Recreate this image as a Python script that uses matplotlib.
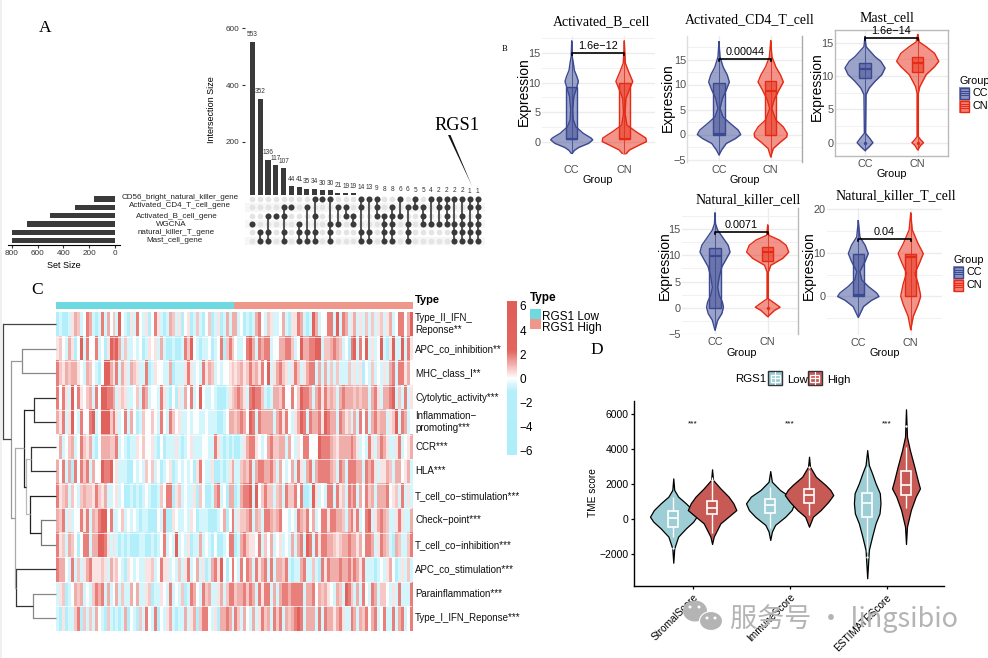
#!/usr/bin/python3
"""
Composite figure: upset plot (A), group violins (B), heatmap (C), TME violins (D).
"""
import numpy as np
import matplotlib
matplotlib.use("Agg")
import matplotlib.pyplot as plt
from matplotlib.colors import LinearSegmentedColormap, ListedColormap
from matplotlib.patches import Rectangle, Ellipse

W, H = 988, 658
SANS = "Liberation Sans"
SERIF = "Liberation Serif"
plt.rcParams["font.family"] = [SANS, "DejaVu Sans"]

# ---- panel A data
set_names = ["CD56_bright_natural_killer_gene", "Activated_CD4_T_cell_gene", "Activated_B_cell_gene",
             "WGCNA", "natural_killer_T_gene", "Mast_cell_gene"]
set_sizes = [160, 310, 505, 685, 800, 800]
inter_sizes = [553, 352, 136, 117, 107, 44, 41, 35, 34, 30, 30, 21, 19, 19, 14, 13, 9, 8, 8, 6, 6, 5, 5, 4, 2, 2, 2, 2, 1, 1]
# row indexes into set_names for each intersection column
inter_sets = [[3], [4, 5], [2, 4, 5], [2], [1, 2, 4, 5], [1], [3, 4, 5], [1, 4, 5], [0, 2, 4, 5], [0],
              [0, 3, 4, 5], [1, 3], [1, 2], [2, 3], [0, 1, 4, 5], [0, 4, 5], [0, 1, 2], [2, 3, 4, 5],
              [1, 2, 3, 4, 5], [0, 2], [1, 3, 4, 5], [0, 1], [1, 2, 3], [0, 3], [0, 1, 3], [0, 1, 2, 3],
              [0, 3, 4, 5], [0, 2, 3, 4, 5], [0, 1, 3, 4, 5], [0, 1, 2, 3, 4, 5]]

# ---- panel B data: y knots and half widths of each violin, box = q1, median, q3
b_cc_y = [17, 14.4, 13.4, 12.1, 11, 10.2, 9.2, 7.6, 5.4, 3.7, 2.5, 1.4, .6, .3, -.3, -1, -1.5, -2.1]
b_cc_w = [0, .01, .03, .05, .1, .127, .095, .04, .02, .03, .08, .22, .37, .40, .32, .13, .05, 0]
b_cn_y = [17, 13.3, 11.9, 10.2, 8.8, 7.3, 4.8, 2.8, 1.7, .6, 0, -.6, -1.4, -2.4]
b_cn_w = [0, .02, .08, .16, .095, .03, .015, .05, .22, .41, .42, .28, .1, 0]
b_cc_box = [.4, .4, 9.2]
b_cn_box = [.4, .4, 9.9]

cd4_cc_y = [18.5, 15.5, 13.5, 11.9, 10.5, 8.9, 7.2, 5.2, 3.5, 2.2, .9, 0, -.8, -1.8, -3.1, -4.1]
cd4_cc_w = [0, .02, .08, .16, .2, .14, .065, .02, .08, .22, .37, .42, .32, .14, .05, 0]
cd4_cn_y = [18.7, 15.5, 13.5, 11.9, 10.5, 8.9, 6.9, 5.2, 2.9, 1.5, .2, -.5, -1.5, -2.8, -4.5]
cd4_cn_w = [0, .025, .1, .19, .245, .16, .065, .02, .1, .245, .32, .31, .19, .05, 0]
cd4_cc_box = [0, .2, 10.3]
cd4_cn_box = [0, 8.7, 10.7]

mast_cc_y = [15.9, 14.4, 12.9, 12.2, 11.2, 10.2, 9.2, 8.2, 7.2, 1.4, .65, 0, -.6, -1.2]
mast_cc_w = [0, .02, .19, .3, .38, .32, .19, .08, .02, .012, .09, .15, .08, 0]
mast_cn_y = [16.2, 15.1, 14.4, 13.4, 12.2, 11.4, 10.2, 8.4, 7.4, .9, .4, 0, -.45, -1.1]
mast_cn_w = [0, .03, .16, .32, .4, .32, .16, .04, .012, .012, .06, .11, .05, 0]
mast_cc_box = [9.75, 11, 12]
mast_cn_box = [10.65, 12, 12.9]

nk_cc_y = [18, 16, 14.8, 13.2, 11.9, 10.6, 9.4, 7.8, 5.9, 3.9, 2.4, 1.1, .1, -1.1, -2.4, -4.3]
nk_cc_w = [0, .01, .05, .16, .25, .285, .22, .13, .08, .05, .08, .14, .16, .13, .05, 0]
nk_cn_y = [15.7, 13.8, 12.9, 11.9, 10.6, 9.4, 8.1, 6.8, 1.7, .8, .1, -.5, -1.7]
nk_cn_w = [0, .02, .22, .35, .4, .285, .06, .012, .012, .14, .235, .13, 0]
nk_cc_box = [0, 9.9, 11.3]
nk_cn_box = [8.9, 10.6, 11.6]

nkt_cc_y = [17.3, 13.6, 11.7, 9.8, 8, 5.7, 3.8, 2.3, .8, 0, -.9, -2.3, -4.8]
nkt_cc_w = [0, .03, .13, .19, .13, .03, .065, .19, .35, .395, .25, .1, 0]
nkt_cn_y = [19, 15.2, 12.1, 9.8, 8, 5.3, 3, .8, 0, -1.9, -4.5, -7.6]
nkt_cn_w = [0, .03, .14, .24, .18, .08, .14, .18, .19, .14, .05, 0]
nkt_cc_box = [0, .4, 9.6]
nkt_cn_box = [0, 8.9, 9.8]

# ---- panel C data: one digit per cell, see heat_levels
row_names = ["Type_II_IFN_\nReponse**", "APC_co_inhibition**", "MHC_class_I**", "Cytolytic_activity***",
             "Inflammation\u2212\npromoting***", "CCR***", "HLA***", "T_cell_co\u2212stimulation***", "Check\u2212point***",
             "T_cell_co\u2212inhibition***", "APC_co_stimulation***", "Parainflammation***", "Type_I_IFN_Reponse***"]
heat_levels = {"0": -3, "1": -.6, "2": 0, "3": .4, "4": .8, "5": 1.2, "6": 1.9, "7": 4}
heat_rows = [
    "0100135412 6510161524 1721031621 3026310154 1302301410 2401301515 5120101562 1431125103 3651017512 2661716513 5131414134 1351266257",
    "3421530271 6226120376 7514112120 1323151001 0016472101 1201260464 2112675165 6612255664 1275566771 4456541206 7162713127 1037117163",
    "6435455321 5421027753 6153154311 6013221150 1113631216 3541212234 3453464536 2713564313 6413566151 5141411141 3130214121 3156166352",
    "6263172632 4516277665 1343112416 5122163102 0315261272 1121000134 5653167664 1015546226 2476651563 6454156555 4545515631 5567141613",
    "5361372162 2671277746 3126152014 2242162164 2311212211 2111001255 4565276165 5551563621 3576165563 7655165341 5162615645 5134716512",
    "2512451264 3510255544 6121011324 2231020111 3101231112 2116310101 0013566321 2564455152 1326622276 6654355556 5312163146 5311361235",
    "5261506264 6152276672 3111002121 4241201230 1212120362 1130010135 1145461566 5564152125 1631561566 6654165166 6551656313 3541552351",
    "6345142145 4436435112 3120010101 2100142660 3412113042 0015612055 0156671724 6441451644 6260017312 1661634165 6152645155 5623416131",
    "5461312263 6154677261 1241212101 1000216003 2112132011 1000125026 1344561541 6654562212 1654625126 6366554156 3612671356 5411363115",
    "6341542026 6155776313 1010100011 0010126121 7121301151 2102001266 0156433261 4251231215 1561761636 6554345565 5352665136 5410541146",
    "6552161413 5633343153 4210321211 3341263312 1413612513 0156372026 2162651635 6161554610 1156114106 3655565564 6536111012 1352013141",
    "1340125451 2146561512 5141152511 3401132161 2140165216 4511351466 4556465163 6615156656 6661556254 5321541764 1516216514 4213161116",
    "1030114604 1415210410 1015021041 6216021351 0115135046 6213055651 6415215136 4516461545 6761555161 6553563116 5154625612 6116156126",
]
group_sizes = [60, 60]
group_labels = ["RGS1 Low", "RGS1 High"]
cbar_ticks = [6, 4, 2, 0, -2, -4, -6]
# merges: (x of the joint in pixels, child, child, colour); a child is a row or a "nN" earlier merge
dendro_merges = [
    (34.3, 3, 4, "#333333"),       # n0
    (31.3, 5, 6, "#333333"),       # n1
    (41.3, 8, 9, "#777777"),       # n2
    (30.3, 7, "n2", "#222222"),    # n3
    (26.0, "n1", "n3", "#bbbbbb"), # n4
    (24.3, "n0", "n4", "#222222"), # n5
    (33.3, 11, 12, "#888888"),     # n6
    (16.3, 10, "n6", "#333333"),   # n7
    (15.0, "n5", "n7", "#aaaaaa"), # n8
    (21.7, 1, 2, "#888888"),       # n9
    (10.7, "n9", "n8", "#999999"), # n10
    (2.7, 0, "n10", "#444444"),    # n11
]

# ---- panel D data
tme_names = ["StromalScore", "ImmuneScore", "ESTIMATEScore"]
stromal_low_y = [2340, 1680, 1300, 915, 530, 150, -130, -515, -990, -1660, -2480]
stromal_low_w = [0, .01, .05, .13, .2, .24, .206, .13, .05, .01, 0]
stromal_high_y = [2860, 2250, 1770, 1300, 915, 530, 250, -230, -990, -1410]
stromal_high_w = [0, .01, .086, .17, .22, .25, .19, .086, .017, 0]
immune_low_y = [2760, 2150, 1680, 1300, 915, 530, 150, -320, -700, -1180]
immune_low_w = [0, .017, .1, .2, .25, .22, .155, .05, .017, 0]
immune_high_y = [3580, 3010, 2440, 1960, 1680, 1390, 1010, 530, 150, -420]
immune_high_w = [0, .01, .07, .17, .22, .25, .2, .12, .04, 0]
estimate_low_y = [3960, 3100, 2630, 2060, 1490, 915, 340, -230, -990, -1750, -3370]
estimate_low_w = [0, .017, .05, .086, .13, .137, .127, .086, .05, .017, 0]
estimate_high_y = [6290, 4720, 3960, 3010, 2250, 1770, 1300, 530, -420, -1410]
estimate_high_w = [0, .01, .04, .086, .12, .144, .1, .05, .01, 0]
# whisker low, q1, median, q3, whisker high
low_boxes = [[-990, -420, 60, 495, 1300], [-515, 380, 820, 1160, 1870], [-1850, 115, 915, 1520, 3010]]
high_boxes = [[-800, 290, 630, 1070, 2440], [250, 915, 1390, 1730, 2820], [630, 1390, 1960, 2780, 4150]]
low_outliers = [[-1660], [], [-2130]]
high_outliers = [[2250], [3010], [5320]]


def px_axes(fig, left, top, right, bottom, **kw):
    """Axes placed by pixel box of the 988x658 picture"""
    return fig.add_axes([left / W, 1 - bottom / H, (right - left) / W, (bottom - top) / H], **kw)


def draw_upset(fig, ov):
    """Panel A"""
    xs = np.arange(len(inter_sizes))
    xlim = (-0.966, 29.96)
    ax = px_axes(fig, 245, 28, 485, 195)
    ax.bar(xs, inter_sizes, width=0.65, color="#3a3a3a")
    ax.set_xlim(*xlim)
    ax.set_ylim(12.3, 601)
    ax.set_xticks([])
    ax.set_yticks([200, 400, 600])
    ax.tick_params(axis="y", labelsize=5.9, length=2, pad=2, width=0.8, colors="#333333")
    for side in ax.spines.values():
        side.set_visible(False)
    for x, v in zip(xs, inter_sizes):
        ax.annotate(str(v), (x, v), xytext=(0, 2.5), textcoords="offset points",
                    ha="center", va="bottom", fontsize=4.7, color="#333333", annotation_clip=False)
    ov.text(211.5, 110, "Intersection Size", rotation=90, ha="center", va="center", fontsize=6.5)

    m = px_axes(fig, 245, 195, 485, 245)
    m.set_xlim(*xlim)
    m.set_ylim(5.5, -0.48)
    m.axis("off")
    for row in range(1, 6, 2):
        m.axhspan(row - 0.5, row + 0.5, color="#f6f6f6", lw=0, zorder=0)
    for x, rows in zip(xs, inter_sets):
        m.scatter([x] * 6, range(6), s=17, color="#e4e4e4", lw=0, zorder=1)
        m.plot([x, x], [min(rows), max(rows)], color="#3a3a3a", lw=1.2, zorder=2)
        m.scatter([x] * len(rows), rows, s=19, color="#3a3a3a", lw=0, zorder=3)

    s = px_axes(fig, 8, 195, 120, 244.5)
    s.barh(range(6), set_sizes, height=0.62, color="#3a3a3a")
    s.set_xlim(829, -38.7)
    s.set_ylim(5.45, -0.48)
    s.set_yticks([])
    s.set_xticks([800, 600, 400, 200, 0])
    s.tick_params(axis="x", labelsize=5.9, length=2, pad=2, width=0.8, colors="#333333")
    for side in ["top", "left", "right"]:
        s.spines[side].set_visible(False)
    ov.text(64, 265, "Set Size", ha="center", va="center", fontsize=6.5)

    name_x = [180, 180, 176.5, 171.5, 176, 174.5]
    name_y = [197.3, 205.7, 216, 224.3, 232.7, 240.7]
    for x, y, name in zip(name_x, name_y, set_names):
        ov.text(x, y, name, ha="center", va="center", fontsize=5.8, color="#222222")
    ov.text(456.5, 126, "RGS1", family=SERIF, ha="center", va="center", fontsize=13.2)
    ov.fill([448, 450.5, 472], [135, 135, 186], color="#111111", lw=0)


def draw_group_panel(fig, ov, box, ticks, ylim, cc_px, cn_px, violins, boxes, title, title_xy, ylabel_xy, group_xy,
                     bracket_y, ptext, frame=None, pad=2, dots=()):
    """One violin panel of B; box is left, top, right, bottom in pixels"""
    left, top, right, bottom = box
    step = cn_px - cc_px
    ax = px_axes(fig, left, top, right, bottom)
    ax.set_xlim(1 - (cc_px - left) / step, 1 + (right - cc_px) / step)
    ax.set_ylim(*ylim)
    ax.set_axisbelow(True)
    ax.set_xticks([1, 2])
    ax.set_xticklabels(["CC", "CN"])
    ax.set_yticks(ticks)
    minor = [t + (ticks[1] - ticks[0]) / 2 for t in ticks] + [ticks[0] - (ticks[1] - ticks[0]) / 2]
    ax.set_yticks([t for t in minor if ylim[0] <= t <= ylim[1]], minor=True)
    ax.grid(True, which="major", color="#ececec", lw=1.0)
    ax.grid(True, which="minor", axis="y", color="#f1f1f1", lw=0.7)
    ax.tick_params(axis="both", which="both", length=0, labelsize=7.8, colors="#4d4d4d")
    ax.tick_params(axis="x", pad=pad)
    ax.tick_params(axis="y", pad=1)
    for name, side in ax.spines.items():
        side.set_visible(False)
    for name, colour in (frame or {}).items():
        ax.spines[name].set_visible(True)
        ax.spines[name].set_color(colour)
        ax.spines[name].set_linewidth(1.0)

    for pos, (ys, ws), quart, colour in zip([1, 2], violins, boxes, [BLUE, RED]):
        ys = np.array(ys)
        ws = np.array(ws)
        ax.fill_betweenx(ys, pos - ws, pos + ws, color=colour, alpha=0.5, lw=0)
        ax.plot(np.r_[pos - ws, (pos + ws)[::-1]], np.r_[ys, ys[::-1]], color=colour, lw=1.0, solid_joinstyle="round")
        ax.vlines(pos, ys.min(), ys.max(), color=colour, lw=0.7, alpha=0.8)
        ax.bar(pos, quart[2] - quart[0], width=0.22, bottom=quart[0], facecolor=colour, edgecolor="none", alpha=0.5)
        ax.bar(pos, quart[2] - quart[0], width=0.22, bottom=quart[0], facecolor="none", edgecolor=colour, lw=1.0)
        ax.hlines(quart[1], pos - 0.11, pos + 0.11, color=colour, lw=1.6)
    for pos, val, colour in dots:
        ax.scatter([pos], [val], s=6, color=colour, zorder=5, lw=0)

    y_px = bracket_y
    ov.plot([cc_px, cc_px, cn_px, cn_px], [y_px + 2, y_px, y_px, y_px + 2], color="black", lw=1.2)
    ov.text((cc_px + cn_px) / 2, y_px - 7, ptext, ha="center", va="center", fontsize=7.8)
    ov.text(title_xy[0], title_xy[1], title, family=SERIF, ha="center", va="center", fontsize=10)
    ov.text(ylabel_xy[0], ylabel_xy[1], "Expression", rotation=90, ha="center", va="center", fontsize=10)
    ov.text(group_xy[0], group_xy[1], "Group", ha="center", va="center", fontsize=7.8)


def group_legend(ov, x, y_title, y_key, key_w=10.5, key_h=12.5):
    """Group key next to panels B"""
    ov.text(x, y_title, "Group", ha="left", va="center", fontsize=7.8)
    for i, (name, colour) in enumerate(zip(["CC", "CN"], [BLUE, RED])):
        y = y_key + i * (key_h + 0.5)
        ov.add_patch(Rectangle((x, y), key_w, key_h, facecolor=colour, alpha=0.6, lw=0))
        ov.add_patch(Rectangle((x + 0.5, y + 0.5), key_w - 1, key_h - 1, fill=False, edgecolor=colour, lw=1))
        for frac in (0.35, 0.5, 0.65):
            ov.plot([x + 1.5, x + key_w - 1.5], [y + key_h * frac] * 2, color=colour, lw=0.7)
        ov.text(x + key_w + 3, y + key_h / 2, name, ha="left", va="center", fontsize=7.8)


def draw_heatmap(fig, ov):
    """Panel C"""
    cells = [list(r.replace(" ", "")) for r in heat_rows]
    values = np.array([[float(heat_levels[c]) for c in row] for row in cells])
    cmap = LinearSegmentedColormap.from_list("heat", [(0, "#aeeefb"), (5 / 12, "#b5f0fc"), (.5, "#ffffff"),
                                                      (8.3 / 12, "#e4655f"), (1, "#df5f59")])
    ax = px_axes(fig, 56, 312, 412, 631)
    ax.imshow(values, aspect="auto", cmap=cmap, vmin=-6, vmax=6, interpolation="nearest")
    ax.hlines(np.arange(len(heat_rows) - 1) + .5, -.5, values.shape[1] - .5, color="white", lw=0.5)
    ax.axis("off")

    top = px_axes(fig, 56, 302, 412, 309)
    groups = np.repeat([0, 1], group_sizes)[None, :]
    top.imshow(groups, aspect="auto", cmap=ListedColormap([LOW_BAR, HIGH_BAR]), interpolation="nearest")
    top.axis("off")

    for i, name in enumerate(row_names):
        ov.text(415, 312 + 24.5 * (i + .5), name, ha="left", va="center", fontsize=7, linespacing=1.25, color="#111111")
    ov.text(415, 300, "Type", ha="left", va="center", fontsize=8, weight="bold")

    # dendrogram
    pos = {}
    for k, (x, a, b, colour) in enumerate(dendro_merges):
        ends = []
        for child in (a, b):
            if isinstance(child, str):
                ends.append(pos[child])
            else:
                ends.append((56, 312 + 24.5 * (child + .5)))
        for cx, cy in ends:
            ov.plot([x, cx], [cy, cy], color=colour, lw=0.9, solid_capstyle="butt")
        ov.plot([x, x], [ends[0][1], ends[1][1]], color=colour, lw=0.9)
        pos["n%d" % k] = (x, (ends[0][1] + ends[1][1]) / 2)

    # colour bar
    cb = px_axes(fig, 507, 301, 516.5, 455)
    grad = np.linspace(6.41, -6.36, 128)[:, None]
    cb.imshow(grad, aspect="auto", cmap=cmap, vmin=-6, vmax=6, extent=[0, 1, -6.36, 6.41])
    cb.set_xticks([])
    cb.yaxis.tick_right()
    cb.set_yticks(cbar_ticks)
    cb.tick_params(axis="y", length=0, labelsize=8.5, pad=2)
    for side in cb.spines.values():
        side.set_visible(False)

    ov.text(530, 298, "Type", ha="left", va="center", fontsize=8.5, weight="bold")
    for i, (name, colour) in enumerate(zip(group_labels, [LOW_BAR, HIGH_BAR])):
        ov.add_patch(Rectangle((530, 309 + i * 10), 10.5, 10, facecolor=colour, lw=0))
        ov.text(542, 316.5 + i * 11, name, ha="left", va="center", fontsize=8.5)


def draw_tme(fig, ov):
    """Panel D"""
    ax = px_axes(fig, 634.3, 401, 944.3, 586)
    low = [(stromal_low_y, stromal_low_w), (immune_low_y, immune_low_w), (estimate_low_y, estimate_low_w)]
    high = [(stromal_high_y, stromal_high_w), (immune_high_y, immune_high_w), (estimate_high_y, estimate_high_w)]
    sets = [(-0.2, low, low_boxes, low_outliers, TME_LOW), (0.2, high, high_boxes, high_outliers, TME_HIGH)]
    for shift, shapes, boxes, outliers, colour in sets:
        for i in range(len(tme_names)):
            x = i + shift
            ys = np.array(shapes[i][0])
            ws = np.array(shapes[i][1])
            ax.fill_betweenx(ys, x - ws, x + ws, facecolor=colour, edgecolor="black", lw=0.9, zorder=2 + shift)
            wlo, q1, med, q3, whi = boxes[i]
            ax.vlines(x, wlo, q1, color="white", lw=1.0, zorder=3)
            ax.vlines(x, q3, whi, color="white", lw=1.0, zorder=3)
            ax.bar(x, q3 - q1, width=0.1, bottom=q1, facecolor="none", edgecolor="white", lw=1.2, zorder=3)
            ax.hlines(med, x - 0.05, x + 0.05, color="white", lw=1.2, zorder=3)
            if outliers[i]:
                ax.scatter([x] * len(outliers[i]), outliers[i], s=3, color="white", lw=0, zorder=4)
    for i in range(len(tme_names)):
        ax.text(i, 5450, "***", ha="center", va="center", fontsize=6)
    ax.set_xlim(-0.602, 2.595)
    ax.set_ylim(-3811, 6766)
    ax.set_yticks([-2000, 0, 2000, 4000, 6000])
    ax.set_xticks(range(len(tme_names)))
    ax.set_xticklabels(tme_names, rotation=45, ha="right", rotation_mode="anchor", fontsize=7.3)
    ax.tick_params(axis="y", labelsize=7.5, length=2.5, pad=1.5, width=0.9)
    ax.tick_params(axis="x", length=2.5, pad=2, width=0.9)
    ax.spines["top"].set_visible(False)
    ax.spines["right"].set_visible(False)
    ax.spines["left"].set_linewidth(1.0)
    ax.spines["bottom"].set_linewidth(1.0)
    ov.text(593, 493, "TME score", rotation=90, ha="center", va="center", fontsize=7.3)

    ov.text(735.5, 379, "RGS1", ha="left", va="center", fontsize=8.2)
    for x, name, colour, tx in [(768, "Low", TME_LOW, 787.5), (807.5, "High", TME_HIGH, 827.5)]:
        ov.add_patch(Rectangle((x, 371), 14, 14, facecolor=colour, edgecolor="#333333", lw=1))
        ov.plot([x + 7, x + 7], [372, 384], color="white", lw=0.8)
        ov.add_patch(Rectangle((x + 2.5, 374.5), 9, 7, facecolor=colour, edgecolor="white", lw=0.9))
        ov.plot([x + 2.5, x + 11.5], [378, 378], color="white", lw=0.9)
        ov.text(tx, 380, name, ha="left", va="center", fontsize=8.2)


fig = plt.figure(figsize=(W / 100, H / 100), dpi=100)
BLUE = "#3B4992"
RED = "#E62A14"
LOW_BAR = "#6fd9e2"
HIGH_BAR = "#f0978b"
TME_LOW = "#9dcdd5"
TME_HIGH = "#c85a56"

ov = fig.add_axes([0, 0, 1, 1], zorder=10)
ov.set_xlim(0, W)
ov.set_ylim(H, 0)
ov.axis("off")
ov.patch.set_alpha(0)

draw_upset(fig, ov)

draw_group_panel(fig, ov, (541.7, 36, 655, 154), [0, 5, 10, 15], (-2.1, 17.9), 571.7, 624.3,
                 [(b_cc_y, b_cc_w), (b_cn_y, b_cn_w)], [b_cc_box, b_cn_box], "Activated_B_cell",
                 (601.7, 21.5), (524, 92), (598, 180), 53, "1.6e\u221212", pad=8)
draw_group_panel(fig, ov, (687.3, 36, 801.7, 162), [-5, 0, 5, 10, 15], (-5.5, 19.7), 719, 770.7,
                 [(cd4_cc_y, cd4_cc_w), (cd4_cn_y, cd4_cn_w)], [cd4_cc_box, cd4_cn_box], "Activated_CD4_T_cell",
                 (750, 20), (667.5, 98), (745, 180), 59, "0.00044",
                 frame={"left": "#dddddd", "right": "#aaaaaa"}, pad=2)
draw_group_panel(fig, ov, (835, 30, 948.3, 156), [0, 5, 10, 15], (-2, 16.9), 865, 917.7,
                 [(mast_cc_y, mast_cc_w), (mast_cn_y, mast_cn_w)], [mast_cc_box, mast_cn_box], "Mast_cell",
                 (886.7, 18), (816.7, 87), (891.7, 174), 38.3, "1.6e\u221214",
                 frame={"left": "#bbbbbb", "right": "#bbbbbb", "top": "#bbbbbb", "bottom": "#bbbbbb"}, pad=2,
                 dots=[(1, 0, BLUE), (2, 0, RED)])
draw_group_panel(fig, ov, (682, 208, 798, 334), [-5, 0, 5, 10, 15], (-5, 19), 715, 767.7,
                 [(nk_cc_y, nk_cc_w), (nk_cn_y, nk_cn_w)], [nk_cc_box, nk_cn_box], "Natural_killer_cell",
                 (747.7, 200), (664.5, 266), (741.7, 353), 231.7, "0.0071",
                 frame={"right": "#bbbbbb"}, pad=2, dots=[(2, 0, RED)])
draw_group_panel(fig, ov, (827, 208, 941.7, 335), [0, 10, 20], (-8.8, 20.2), 858.3, 910.7,
                 [(nkt_cc_y, nkt_cc_w), (nkt_cn_y, nkt_cn_w)], [nkt_cc_box, nkt_cn_box], "Natural_killer_T_cell",
                 (896, 195.5), (809, 266), (885, 353), 239.3, "0.04", pad=2)
group_legend(ov, 959, 81, 87)
group_legend(ov, 953, 260, 266)

draw_heatmap(fig, ov)
draw_tme(fig, ov)

# panel letters
ov.text(45, 28, "A", family=SERIF, ha="center", va="center", fontsize=12.5)
ov.text(504.5, 49, "B", family=SERIF, ha="center", va="center", fontsize=6)
ov.text(37.5, 290.5, "C", family=SERIF, ha="center", va="center", fontsize=12.5)
ov.text(597, 350.5, "D", family=SERIF, ha="center", va="center", fontsize=12.5)

# watermark
ov.add_patch(Ellipse((695, 611), 24, 21, facecolor="#b4b4b4", edgecolor="none"))
ov.add_patch(Ellipse((711, 621), 23, 19, facecolor="#b4b4b4", edgecolor="white", lw=0.8))
for x, y in [(690, 607), (699, 607), (707, 618), (715, 618)]:
    ov.add_patch(Ellipse((x, y), 3, 3, facecolor="white", edgecolor="none"))
ov.text(730, 619, "\u670d\u52a1\u53f7 \u00b7 lingsibio", family=["Noto Sans CJK SC", "DejaVu Sans"],
        ha="left", va="center", fontsize=19.5, color="#b4b4b4")
ov.add_patch(Rectangle((0, 0), 1.5, H, facecolor="#f0f0f0", edgecolor="none"))

fig.savefig("out.png", dpi=100)
